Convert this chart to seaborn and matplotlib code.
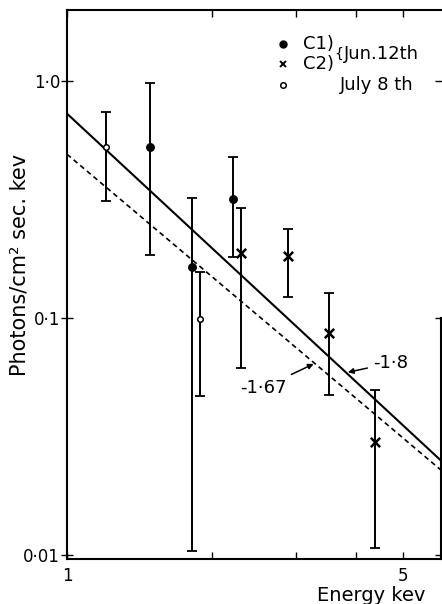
import numpy as np
import pandas as pd
import matplotlib
matplotlib.use("Agg")
import matplotlib.pyplot as plt
import seaborn as sns

# ---- data ---------------------------------------------------------------
# C1 (Jun. 12th) - filled circles
c1_energy = [1.49, 1.82, 2.22]
c1_flux = [0.527, 0.164, 0.318]
c1_hi = [0.98, 0.32, 0.478]
c1_lo = [0.184, 0.0104, 0.181]

# C2 (Jun. 12th) - crosses
c2_energy = [2.30, 2.88, 3.51, 4.37]
c2_flux = [0.188, 0.183, 0.0865, 0.030]
c2_hi = [0.291, 0.238, 0.128, 0.0497]
c2_lo = [0.0615, 0.123, 0.0473, 0.0107]

# July 8th - open circles
jul_energy = [1.205, 1.89]
jul_flux = [0.527, 0.099]
jul_hi = [0.74, 0.156]
jul_lo = [0.312, 0.0469]

# power-law fits, end points
fit_energy = [1.0, 6.0]
fit_18 = [0.73, 0.025]     # index -1.8 (solid)
fit_167 = [0.492, 0.0228]  # index -1.67 (dashed)

x_ticks = [1, 2, 3, 4, 5]
x_ticklabels = ["1", "", "", "", "5"]
y_ticks = [0.01, 0.1, 1.0]
y_ticklabels = ["0·01", "0·1", "1·0"]

# -------------------------------------------------------------------------
sns.set_style("ticks")
plt.rcParams["font.family"] = ["DejaVu Sans"]
plt.rcParams["text.color"] = "black"
plt.rcParams["axes.labelcolor"] = "black"
plt.rcParams["xtick.color"] = "black"
plt.rcParams["ytick.color"] = "black"

fig = plt.figure(figsize=(4.42, 6.04), dpi=100)
ax = fig.add_axes([0.1516, 0.0745, 0.8461, 0.9089])
ax.set_xscale("log")
ax.set_yscale("log")

fits = pd.DataFrame({"E": fit_energy, "a": fit_18, "b": fit_167})
sns.lineplot(data=fits, x="E", y="a", color="black", lw=1.5, ax=ax)
sns.lineplot(data=fits, x="E", y="b", color="black", lw=1.2, ax=ax,
             linestyle=(0, (3, 2.2)))


def draw_group(xs, ys, hi, lo, marker, size, face):
    ys = np.array(ys)
    err = [ys - np.array(lo), np.array(hi) - ys]
    ax.errorbar(xs, ys, yerr=err, fmt="none", ecolor="black",
                elinewidth=1.4, capsize=3.5, capthick=1.3, zorder=3)
    df = pd.DataFrame({"E": xs, "F": ys})
    if marker == "x":
        sns.scatterplot(data=df, x="E", y="F", marker="x", s=size,
                        color="black", linewidth=1.8, ax=ax, zorder=4)
    else:
        sns.scatterplot(data=df, x="E", y="F", marker="o", s=size,
                        facecolor=face, edgecolor="black", linewidth=1.1,
                        ax=ax, zorder=4)


draw_group(c1_energy, c1_flux, c1_hi, c1_lo, "o", 28, "black")
draw_group(c2_energy, c2_flux, c2_hi, c2_lo, "x", 45, "black")
draw_group(jul_energy, jul_flux, jul_hi, jul_lo, "o", 16, "white")

ax.set_xlim(1.0, 6.0)
ax.set_ylim(0.0096, 2.0)

ax.set_xticks(x_ticks)
ax.set_xticklabels(x_ticklabels, fontsize=12)
ax.set_yticks(y_ticks)
ax.set_yticklabels(y_ticklabels, fontsize=12)
ax.minorticks_off()
ax.tick_params(axis="x", which="major", direction="in", top=True,
               length=5, width=1, pad=6)
ax.tick_params(axis="y", which="major", direction="inout", right=True,
               length=8, width=1, pad=1)

for s in ax.spines.values():
    s.set_linewidth(1.5)
    s.set_color("black")
ax.spines["right"].set_bounds(0.0096, 0.1)

ax.set_xlabel("Energy kev", fontsize=14)
ax.xaxis.label.set(va="center", ha="center")
ax.xaxis.set_label_coords(0.813, -0.066)
ax.set_ylabel("Photons/cm² sec. kev", fontsize=15)
ax.yaxis.label.set(va="center", ha="center")
ax.yaxis.set_label_coords(-0.126, 0.535)

# legend drawn by hand, as in the original
tr = ax.transAxes
ax.plot(0.577, 0.938, "o", color="black", ms=5, transform=tr, clip_on=False)
ax.plot(0.577, 0.902, "x", color="black", ms=5, mew=1.4, transform=tr,
        clip_on=False)
ax.plot(0.577, 0.863, "o", mfc="white", mec="black", ms=4, mew=1.1,
        transform=tr, clip_on=False)
ax.text(0.63, 0.938, "C1)", fontsize=13, va="center", transform=tr)
ax.text(0.63, 0.902, "C2)", fontsize=13, va="center", transform=tr)
ax.text(0.715, 0.92, "{", fontsize=10, va="center", transform=tr)
ax.text(0.74, 0.92, "Jun.12th", fontsize=13, va="center", transform=tr)
ax.text(0.73, 0.863, "July 8 th", fontsize=13, va="center", transform=tr)

# slope labels
ax.annotate("-1·8", xy=(3.84, 0.059), xytext=(4.72, 0.0646),
            fontsize=13, va="center", ha="center",
            arrowprops=dict(arrowstyle="-|>", color="black", lw=1.1,
                            shrinkA=2, shrinkB=0, mutation_scale=8))
ax.annotate("-1·67", xy=(3.26, 0.064), xytext=(2.556, 0.0507),
            fontsize=13, va="center", ha="center",
            arrowprops=dict(arrowstyle="-|>", color="black", lw=1.1,
                            shrinkA=2, shrinkB=0, mutation_scale=8))

fig.savefig("out.png", dpi=100)
